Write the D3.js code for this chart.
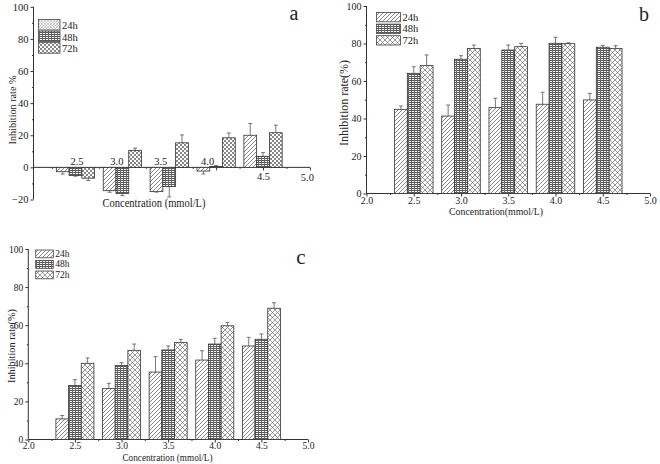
<!DOCTYPE html>
<html><head><meta charset="utf-8">
<script src="https://cdn.jsdelivr.net/npm/d3@7"></script>
<style>
body{margin:0;background:#fff}
svg{display:block}
text{font-family:"Liberation Serif","Times New Roman",serif;fill:#222}
</style>
</head><body><svg id="chart" width="660" height="464"></svg>
<script>
// ---------- data ----------
const concentrations = [2.5, 3.0, 3.5, 4.0, 4.5];
const seriesNames = ["24h", "48h", "72h"];
const xTickValues = [2.0, 2.5, 3.0, 3.5, 4.0, 4.5, 5.0];
const xMinorTicks = [2.25, 2.75, 3.25, 3.75, 4.25, 4.75];
const aYTicks = [-20, 0, 20, 40, 60, 80, 100];
const bcYTicks = [0, 20, 40, 60, 80, 100];
const aYMinor = [-10, 10, 30, 50, 70, 90];
const bcYMinor = [10, 30, 50, 70, 90];

// panel a
const a24 = [-2.7, -14.5, -15.1, -2.3, 20.0];
const a24err = [1.5, 1.0, 0.3, 1.8, 7.3];
const a48 = [-5.1, -16.3, -11.9, 0.6, 6.9];
const a48err = [0.4, 1.3, 6.5, 0.6, 2.3];
const a72 = [-6.7, 10.6, 15.3, 18.4, 21.6];
const a72err = [1.5, 1.4, 4.9, 3.0, 4.7];
// panel b
const b24 = [44.9, 41.3, 45.8, 47.6, 49.9];
const b24err = [1.8, 5.9, 5.0, 6.4, 3.5];
const b48 = [64.1, 71.6, 76.5, 80.1, 78.0];
const b48err = [3.5, 1.9, 2.7, 3.2, 1.0];
const b72 = [68.2, 77.4, 78.3, 79.9, 77.4];
const b72err = [5.7, 1.8, 1.8, 0.5, 1.4];
// panel c
const c24 = [10.8, 26.7, 35.4, 41.7, 49.1];
const c24err = [1.8, 2.8, 8.1, 4.9, 4.5];
const c48 = [28.3, 38.9, 47.0, 50.1, 52.6];
const c48err = [3.1, 1.4, 2.1, 3.0, 2.8];
const c72 = [40.0, 46.8, 51.0, 59.7, 68.9];
const c72err = [2.8, 3.3, 1.6, 1.8, 2.9];

// ---------- drawing ----------
const SERIF = '"Liberation Serif","Times New Roman",serif';
const svg = d3.select("#chart");
const defs = svg.append("defs");

function pat(id, w, h, build) {
  const p = defs.append("pattern").attr("id", id).attr("patternUnits", "userSpaceOnUse")
    .attr("width", w).attr("height", h);
  p.append("rect").attr("width", w).attr("height", h).attr("fill", "#fff");
  build(p);
}
pat("diag", 4, 4, p => p.append("path").attr("d", "M0,4L4,0M-1,1L1,-1M3,5L5,3")
  .attr("stroke", "#555").attr("stroke-width", 0.7));
pat("grid", 3, 2, p => {
  p.append("rect").attr("x", 0).attr("y", 0).attr("width", 3).attr("height", 1).attr("fill", "#555");
  p.append("rect").attr("x", 0).attr("y", 0).attr("width", 1).attr("height", 2).attr("fill", "#666");
});
pat("cross", 5, 5, p => p.append("path").attr("d", "M0,0L5,5M5,0L0,5")
  .attr("stroke", "#555").attr("stroke-width", 0.6));
pat("checker", 4, 4, p => {
  p.append("rect").attr("x", 0).attr("y", 0).attr("width", 2).attr("height", 2).attr("fill", "#888");
  p.append("rect").attr("x", 2).attr("y", 2).attr("width", 2).attr("height", 2).attr("fill", "#888");
});
pat("fine", 3, 3, p => p.append("path").attr("d", "M0,3L3,0M0,0L3,3")
  .attr("stroke", "#aaa").attr("stroke-width", 0.6));

function drawPanel(cfg) {
  const g = svg.append("g");
  const x = d3.scaleLinear().domain([2.0, 5.0]).range(cfg.xRange);
  const y = d3.scaleLinear().domain(cfg.yDomain).range(cfg.yRange);
  const y0 = y(0);
  const axisColor = "#333";

  // y axis
  const ya = g.append("g").attr("transform", `translate(${cfg.yAxisX},0)`)
    .call(d3.axisLeft(y).tickValues(cfg.yTicks).tickSize(3).tickPadding(2).tickFormat(d3.format("d")))
    .attr("font-family", SERIF);
  ya.select(".domain").remove();
  ya.selectAll("line").attr("stroke", axisColor);
  ya.selectAll("text").style("font-size", cfg.tickFont + "px").style("font-family", SERIF).attr("fill", "#222");
  const ym = g.append("g").attr("transform", `translate(${cfg.yAxisX},0)`)
    .call(d3.axisLeft(y).tickValues(cfg.yMinor).tickSize(1.5).tickFormat(""));
  ym.select(".domain").remove();
  ym.selectAll("line").attr("stroke", axisColor);
  g.append("line").attr("x1", cfg.yAxisX).attr("x2", cfg.yAxisX)
    .attr("y1", y(cfg.yDomain[0])).attr("y2", y(cfg.yDomain[1])).attr("stroke", axisColor);

  // x axis
  const xa = g.append("g").attr("transform", `translate(0,${y0})`)
    .call(d3.axisBottom(x).tickValues(cfg.xTicks).tickSize(3).tickPadding(cfg.xPad).tickFormat(d3.format(".1f")))
    .attr("font-family", SERIF);
  xa.select(".domain").remove();
  xa.selectAll("line").attr("stroke", axisColor);
  xa.selectAll("text").style("font-size", cfg.tickFont + "px").style("font-family", SERIF).attr("fill", "#222");
  if (cfg.labelShift) {
    xa.selectAll("text").attr("transform", (d, i) => `translate(${cfg.labelShift[i][0]},${cfg.labelShift[i][1]})`);
  }
  const xm = g.append("g").attr("transform", `translate(0,${y0})`)
    .call(d3.axisBottom(x).tickValues(xMinorTicks).tickSize(1.5).tickFormat(""));
  xm.select(".domain").remove();
  xm.selectAll("line").attr("stroke", axisColor);
  g.append("line").attr("x1", cfg.yAxisX).attr("x2", x(5.0)).attr("y1", y0).attr("y2", y0).attr("stroke", axisColor);

  // bars
  const bw = x(2.0 + 0.136) - x(2.0);
  cfg.series.forEach((s, k) => {
    concentrations.forEach((c, i) => {
      const v = s.vals[i], e = s.errs[i];
      const bx = x(c) + (k - 1.5) * bw;
      const yv = y(v);
      const sign = v >= 0 ? 1 : -1;
      const ye = y(v + sign * e);
      const cx = bx + bw / 2;
      g.append("line").attr("x1", cx).attr("x2", cx).attr("y1", yv).attr("y2", ye)
        .attr("stroke", "#555").attr("stroke-width", 0.8);
      g.append("line").attr("x1", cx - 2).attr("x2", cx + 2).attr("y1", ye).attr("y2", ye)
        .attr("stroke", "#555").attr("stroke-width", 0.8);
      g.append("rect").attr("x", bx).attr("width", bw)
        .attr("y", Math.min(yv, y0)).attr("height", Math.abs(yv - y0))
        .attr("fill", `url(#${s.pattern})`).attr("stroke", "#333").attr("stroke-width", 0.8);
    });
  });

  // legend
  cfg.series.forEach((s, k) => {
    const L = cfg.legend;
    g.append("rect").attr("x", L.x).attr("y", L.y + k * L.step).attr("width", L.w).attr("height", L.h)
      .attr("fill", `url(#${s.legendPattern || s.pattern})`).attr("stroke", "#444").attr("stroke-width", 0.8);
    g.append("text").attr("x", L.x + L.w + 2).attr("y", L.y + k * L.step + L.h - 1)
      .style("font-size", L.font + "px").text(seriesNames[k]);
  });

  // titles
  g.append("text").attr("x", cfg.xTitle[0]).attr("y", cfg.xTitle[1]).attr("text-anchor", "middle")
    .attr("textLength", cfg.xTitle[3]).attr("lengthAdjust", "spacingAndGlyphs")
    .style("font-size", cfg.xTitle[2] + "px").text(cfg.xTitleText);
  g.append("text").attr("transform", `translate(${cfg.yTitle[0]},${cfg.yTitle[1]}) rotate(-90)`)
    .attr("text-anchor", "middle").attr("textLength", cfg.yTitle[3]).attr("lengthAdjust", "spacingAndGlyphs")
    .style("font-size", cfg.yTitle[2] + "px").text(cfg.yTitleText);
  g.append("text").attr("x", cfg.letter[0]).attr("y", cfg.letter[1]).attr("text-anchor", "middle")
    .style("font-size", cfg.letter[2] + "px").text(cfg.letterText);
}

drawPanel({
  xRange: [28.6, 309.9], yDomain: [-20, 100], yRange: [199.5, 6.8], yAxisX: 33.5,
  yTicks: aYTicks, yMinor: aYMinor, xTicks: xTickValues.slice(1), xPad: 2, tickFont: 10.5,
  labelShift: [[1, -15], [-6, -15], [-9, -15], [-9, -15], [0, 0], [-3, 1.5]],
  series: [
    {vals: a24, errs: a24err, pattern: "diag", legendPattern: "fine"},
    {vals: a48, errs: a48err, pattern: "grid"},
    {vals: a72, errs: a72err, pattern: "checker"}
  ],
  legend: {x: 38.5, y: 19.5, step: 11.6, w: 21.5, h: 10.5, font: 10.5},
  xTitle: [154, 207, 11.5, 103], xTitleText: "Concentration (mmol/L)",
  yTitle: [16, 110, 11, 69], yTitleText: "Inhibition rate %",
  letter: [294, 20, 20], letterText: "a"
});

drawPanel({
  xRange: [366.5, 650], yDomain: [0, 100], yRange: [193.5, 6], yAxisX: 366.5,
  yTicks: bcYTicks, yMinor: bcYMinor, xTicks: xTickValues, xPad: 0, tickFont: 10,
  series: [
    {vals: b24, errs: b24err, pattern: "diag"},
    {vals: b48, errs: b48err, pattern: "grid"},
    {vals: b72, errs: b72err, pattern: "cross"}
  ],
  legend: {x: 376.5, y: 12.5, step: 11.6, w: 24, h: 9.3, font: 10.5},
  xTitle: [496, 215, 10.5, 94], xTitleText: "Concentration(mmol/L)",
  yTitle: [348, 103, 11.5, 86], yTitleText: "Inhibition rate(%)",
  letter: [644, 21, 20], letterText: "b"
});

drawPanel({
  xRange: [28.3, 308], yDomain: [0, 100], yRange: [439.5, 249], yAxisX: 28.3,
  yTicks: bcYTicks, yMinor: bcYMinor, xTicks: xTickValues, xPad: 0, tickFont: 9.5,
  series: [
    {vals: c24, errs: c24err, pattern: "diag"},
    {vals: c48, errs: c48err, pattern: "grid"},
    {vals: c72, errs: c72err, pattern: "cross"}
  ],
  legend: {x: 35.7, y: 250, step: 10.5, w: 17.6, h: 7.8, font: 9.5},
  xTitle: [167.5, 461, 10, 90], xTitleText: "Concentration (mmol/L)",
  yTitle: [15, 346, 10.5, 74], yTitleText: "Inhibition rate(%)",
  letter: [301, 264, 21], letterText: "c"
});
</script>
</body></html>
